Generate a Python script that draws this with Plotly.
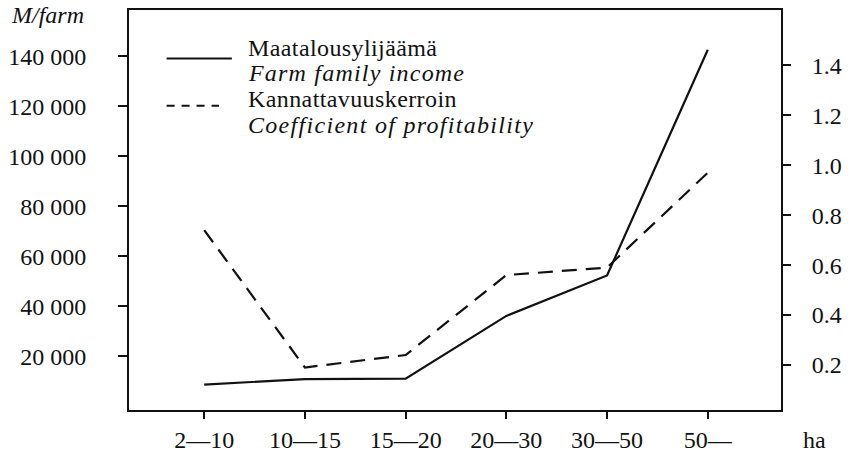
import plotly.graph_objects as go

# Farm size classes (hectares)
size_classes = ["2—10", "10—15", "15—20", "20—30", "30—50", "50—"]

# Farm family income, mk per farm (left axis)
farm_income = [8600, 10800, 11000, 36100, 52300, 142700]

# Coefficient of profitability (right axis)
profitability = [0.74, 0.19, 0.24, 0.56, 0.59, 0.97]

# Axis tick values and labels
income_ticks = [20000, 40000, 60000, 80000, 100000, 120000, 140000]
income_tick_text = ["20 000", "40 000", "60 000", "80 000", "100 000", "120 000", "140 000"]
coef_ticks = [0.2, 0.4, 0.6, 0.8, 1.0, 1.2, 1.4]
coef_tick_text = ["0.2", "0.4", "0.6", "0.8", "1.0", "1.2", "1.4"]

W, H = 866, 461
L, R, T, B = 122, 781, 8, 413  # plot area in pixels

SERIF = "Liberation Serif"
INK = "#111111"


def px(x):
    return (x - L) / (R - L)


def py(y):
    return (B - y) / (B - T)


fig = go.Figure()

fig.add_trace(go.Scatter(
    x=size_classes, y=farm_income, mode="lines",
    line=dict(color=INK, width=2.2), yaxis="y", showlegend=False,
))
fig.add_trace(go.Scatter(
    x=size_classes, y=profitability, mode="lines",
    line=dict(color=INK, width=2.2, dash="15px,9px"), yaxis="y2", showlegend=False,
))

# Hand-made key: line samples and two-language captions
shapes = [
    dict(type="line", xref="paper", yref="paper",
         x0=px(160), x1=px(226), y0=py(57), y1=py(57),
         line=dict(color=INK, width=2)),
    dict(type="line", xref="paper", yref="paper",
         x0=px(160), x1=px(213), y0=py(105), y1=py(105),
         line=dict(color=INK, width=2, dash="8px,7px")),
]

# (caption, vertical centre in px, italic, letter spacing in px)
key_text = [
    ("Maatalousylijäämä", 46, False, 0.4),
    ("Farm family income", 72, True, 1.2),
    ("Kannattavuuskerroin", 98, False, 0.4),
    ("Coefficient of profitability", 124, True, 1.3),
]
annotations = []
for txt, yc, ital, spacing in key_text:
    body = f"<i>{txt}</i>" if ital else txt
    annotations.append(dict(
        text=f'<span style="letter-spacing:{spacing}px">{body}</span>',
        xref="paper", yref="paper", x=px(240), y=py(yc),
        xanchor="left", yanchor="middle", showarrow=False,
        font=dict(family=SERIF, size=24, color=INK),
    ))

annotations.append(dict(
    text="<i>M/farm</i>", xref="paper", yref="paper",
    x=px(1), y=py(13), xanchor="left", yanchor="middle", showarrow=False,
    font=dict(family=SERIF, size=24, color=INK),
))
annotations.append(dict(
    text="ha", xref="paper", yref="paper",
    x=px(815), y=py(443), xanchor="center", yanchor="middle", showarrow=False,
    font=dict(family=SERIF, size=24, color=INK),
))

tick_font = dict(family=SERIF, size=24, color=INK)

fig.update_layout(
    width=W, height=H,
    margin=dict(l=L, r=W - R, t=T, b=H - B),
    paper_bgcolor="white", plot_bgcolor="white",
    font=dict(family=SERIF, size=24, color=INK),
    showlegend=False,
    shapes=shapes,
    annotations=annotations,
    xaxis=dict(
        type="category", range=[-0.7466, 5.727],
        showgrid=False, zeroline=False,
        showline=True, linecolor=INK, linewidth=2, mirror=True,
        ticks="outside", ticklen=7, tickwidth=2, tickcolor=INK,
        tickfont=tick_font, ticklabelstandoff=0,
    ),
    yaxis=dict(
        range=[-1582, 158588],
        tickvals=income_ticks, ticktext=income_tick_text,
        showgrid=False, zeroline=False,
        showline=True, linecolor=INK, linewidth=2,
        ticks="outside", ticklen=9, tickwidth=2, tickcolor=INK,
        tickfont=tick_font, ticklabelstandoff=27,
    ),
    yaxis2=dict(
        overlaying="y", side="right",
        range=[0.0198, 1.6215],
        tickvals=coef_ticks, ticktext=coef_tick_text,
        showgrid=False, zeroline=False,
        showline=True, linecolor=INK, linewidth=2,
        ticks="outside", ticklen=8, tickwidth=2, tickcolor=INK,
        tickfont=tick_font, ticklabelstandoff=16,
    ),
)

fig.write_html("out.html")
